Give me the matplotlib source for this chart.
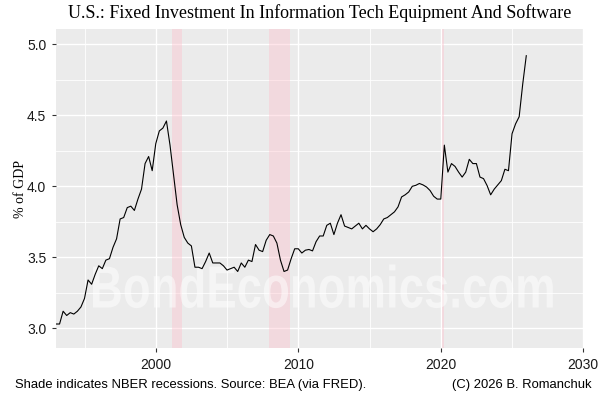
import numpy as np
import pandas as pd
import matplotlib
matplotlib.use("Agg")
import matplotlib.pyplot as plt
from matplotlib.textpath import TextPath
from matplotlib.patches import PathPatch
from matplotlib.font_manager import FontProperties
from matplotlib.transforms import Affine2D

# % of GDP, quarterly, 1993Q1 onwards
valores = [
    3.03, 3.03, 3.12, 3.09,   # 1993
    3.11, 3.10, 3.12, 3.15,   # 1994
    3.21, 3.34, 3.31, 3.38,   # 1995
    3.44, 3.42, 3.48, 3.49,   # 1996
    3.57, 3.63, 3.77, 3.78,   # 1997
    3.85, 3.86, 3.83, 3.91,   # 1998
    3.98, 4.16, 4.21, 4.11,   # 1999
    4.30, 4.39, 4.41, 4.46,   # 2000
    4.29, 4.08, 3.87, 3.73,   # 2001
    3.64, 3.60, 3.58, 3.43,   # 2002
    3.43, 3.42, 3.47, 3.53,   # 2003
    3.46, 3.46, 3.46, 3.44,   # 2004
    3.41, 3.42, 3.43, 3.40,   # 2005
    3.46, 3.43, 3.48, 3.47,   # 2006
    3.59, 3.55, 3.54, 3.62,   # 2007
    3.66, 3.65, 3.60, 3.48,   # 2008
    3.40, 3.41, 3.49, 3.56,   # 2009
    3.56, 3.53, 3.55, 3.555,  # 2010
    3.545, 3.61, 3.65, 3.65,  # 2011
    3.725, 3.74, 3.66, 3.74,  # 2012
    3.80, 3.72, 3.71, 3.70,   # 2013
    3.72, 3.74, 3.70, 3.725,  # 2014
    3.70, 3.68, 3.70, 3.73,   # 2015
    3.77, 3.78, 3.80, 3.82,   # 2016
    3.855, 3.925, 3.94, 3.96, # 2017
    4.00, 4.007, 4.02, 4.01,  # 2018
    3.995, 3.97, 3.93, 3.91,  # 2019
    3.91, 4.29, 4.10, 4.16,   # 2020
    4.14, 4.10, 4.065, 4.10,  # 2021
    4.19, 4.16, 4.16, 4.065,  # 2022
    4.054, 4.005, 3.94, 3.98, # 2023
    4.01, 4.04, 4.12, 4.11,   # 2024
    4.37, 4.44, 4.49, 4.72,   # 2025
    4.92,                     # 2026
]
trimestres = pd.period_range("1993Q1", periods=len(valores), freq="Q")
fechas = trimestres.year + (trimestres.quarter - 1) / 4.0

# NBER recessions (decimal years)
rec_inicio = [2001.17, 2007.92, 2020.08]
rec_fin = [2001.83, 2009.42, 2020.25]

fig = plt.figure(figsize=(6, 4), dpi=100)
ax = fig.add_axes([56/600, 1 - 348/400, 528/600, 319/400])
ax.set_facecolor("#EBEBEB")

ax.set_xlim(1993.0, 2030.05)
ax.set_ylim(2.861, 5.108)

ax.set_xticks([2000, 2010, 2020, 2030])
ax.set_xticks([1995, 2005, 2015, 2025], minor=True)
ax.set_yticks([3.0, 3.5, 4.0, 4.5, 5.0])
ax.set_yticks([3.25, 3.75, 4.25, 4.75], minor=True)
ax.set_yticklabels(["3.0", "3.5", "4.0", "4.5", "5.0"])

ax.grid(which="major", color="white", linewidth=1.0)
ax.grid(which="minor", color="white", linewidth=0.6)
ax.set_axisbelow(True)
for s in ax.spines.values():
    s.set_visible(False)

ax.tick_params(which="major", length=3, width=0.8, color="#333333",
               labelsize=10, labelcolor="#1a1a1a", pad=4)
ax.tick_params(which="minor", length=0)
for lab in ax.get_xticklabels() + ax.get_yticklabels():
    lab.set_family(["Liberation Sans", "DejaVu Sans"])

for i in range(len(rec_inicio)):
    ax.axvspan(rec_inicio[i], rec_fin[i], color="pink", alpha=0.4, lw=0, zorder=1)

# watermark: bold text squeezed into a narrow box (axes fraction coords)
tp = TextPath((0, 0), "BondEconomics.com",
              prop=FontProperties(family="Liberation Sans", weight="bold"), size=1)
bb = tp.get_extents()
x0, x1, y0, y1 = 0.070, 0.941, 0.125, 0.262
tr = (Affine2D().translate(-bb.x0, -bb.y0)
      .scale((x1 - x0) / bb.width, (y1 - y0) / bb.height)
      .translate(x0, y0))
ax.add_patch(PathPatch(tr.transform_path(tp), transform=ax.transAxes,
                       facecolor="white", edgecolor="none", alpha=0.5, zorder=2))

ax.plot(fechas, valores, color="black", linewidth=0.8, zorder=3)

ax.set_ylabel("% of GDP", family=["Liberation Serif", "DejaVu Serif"], fontsize=10)
ax.yaxis.set_label_coords(-(56 - 27) / 528, 0.5)
fig.text(0.533, 0.967, "U.S.: Fixed Investment In Information Tech Equipment And Software",
         ha="center", va="center", fontsize=13,
         family=["Liberation Serif", "DejaVu Serif"])

fig.text(15/600, 1 - 385/400, "Shade indicates NBER recessions. Source: BEA (via FRED).",
         ha="left", va="center", fontsize=9.4, family=["Liberation Sans", "DejaVu Sans"])
fig.text(591/600, 1 - 385/400, "(C) 2026 B. Romanchuk",
         ha="right", va="center", fontsize=9.4, family=["Liberation Sans", "DejaVu Sans"])

fig.savefig("out.png", dpi=100)
